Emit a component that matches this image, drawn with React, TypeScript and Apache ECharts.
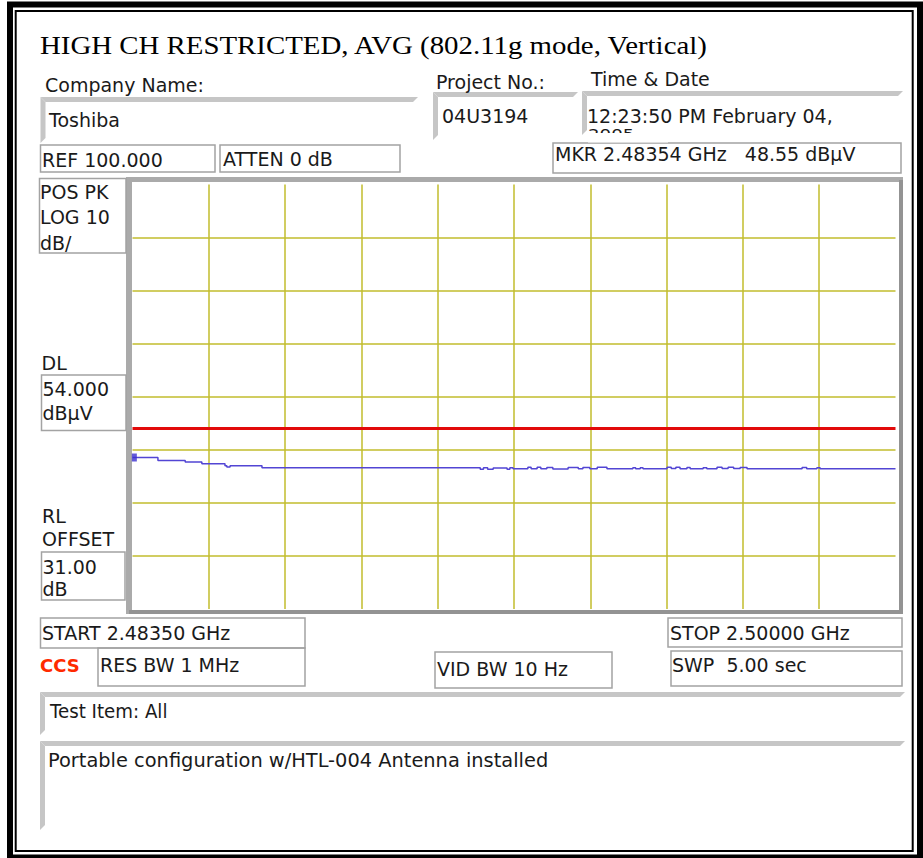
import React, { useEffect, useRef } from "react";
import * as echarts from "echarts";

// ---- data ----
const START_MHZ = 2483.5;
const STOP_MHZ = 2500.0;
const REF_LEVEL = 100;
const BOTTOM_LEVEL = 20;
const DB_PER_DIV = 10;
const X_DIVISIONS = 10;
const DISPLAY_LINE = 54.0;
const MARKER_MHZ = 2483.54;
const MARKER_LEVEL = 48.55;

const traceFreqMHz = [
  2483.5, 2484.05, 2484.64, 2485.0, 2485.5, 2485.54, 2485.61, 2486.3,
  2491.02, 2491.09, 2491.18, 2491.3, 2491.6, 2491.66, 2491.73,
  2492.05, 2492.12, 2492.25, 2492.33, 2492.46, 2492.59, 2492.92,
  2493.14, 2493.24, 2493.39, 2493.55, 2493.76, 2494.32, 2494.38,
  2494.48, 2494.54, 2495.06, 2495.15, 2495.25, 2495.34, 2495.49,
  2495.56, 2495.84, 2495.92, 2496.14, 2496.25, 2496.38, 2496.5,
  2496.64, 2496.79, 2497.98, 2498.08, 2498.3, 2498.37, 2500.0,
];
const traceLevel = [
  48.55, 48.0, 47.72, 47.35, 47.0, 46.78, 46.98, 46.63,
  46.36, 46.63, 46.36, 46.58, 46.36, 46.62, 46.45,
  46.7, 46.45, 46.7, 46.45, 46.68, 46.4, 46.68,
  46.45, 46.66, 46.42, 46.7, 46.42, 46.6, 46.42,
  46.62, 46.42, 46.7, 46.48, 46.72, 46.45, 46.65,
  46.42, 46.62, 46.45, 46.7, 46.48, 46.7, 46.48,
  46.66, 46.42, 46.66, 46.45, 46.6, 46.42, 46.42,
];

const TITLE = "HIGH CH RESTRICTED, AVG (802.11g mode, Vertical)";
const headerTexts = {
  company: "Company Name:",
  companyValue: "Toshiba",
  project: "Project No.:",
  projectValue: "04U3194",
  time: "Time & Date",
  timeValue: "12:23:50 PM February 04,",
  timeValue2: "2005",
  ref: "REF 100.000",
  atten: "ATTEN 0 dB",
  mkr: "MKR 2.48354 GHz   48.55 dBµV",
};
const leftTexts = {
  mode: ["POS PK", "LOG 10", "dB/"],
  dl: "DL",
  dlValue: ["54.000", "dBµV"],
  rl: ["RL", "OFFSET"],
  rlValue: ["31.00", "dB"],
};
const bottomTexts = {
  start: "START 2.48350 GHz",
  ccs: "CCS",
  rbw: "RES BW 1 MHz",
  vbw: "VID BW 10 Hz",
  stop: "STOP 2.50000 GHz",
  swp: "SWP  5.00 sec",
  testItem: "Test Item: All",
  note: "Portable configuration w/HTL-004 Antenna installed",
};

const FONT = '"DejaVu Sans", Verdana, sans-serif';
const SERIF = '"Liberation Serif", "Times New Roman", serif';

function txt(text: string, x: number, y: number, extra: any = {}) {
  const { scaleX, ...style } = extra;
  return {
    type: "text",
    x,
    y,
    z: 20,
    scaleX: scaleX ?? 1,
    silent: true,
    style: {
      text,
      x: 0,
      y: 0,
      fill: "#1a1a1a",
      fontSize: 19,
      fontFamily: FONT,
      align: "left",
      verticalAlign: "middle",
      ...style,
    },
  };
}

function box(x0: number, y0: number, x1: number, y1: number) {
  return {
    type: "rect",
    z: 15,
    silent: true,
    shape: { x: x0, y: y0, width: x1 - x0, height: y1 - y0 },
    style: { fill: "none", stroke: "#a3a3a3", lineWidth: 1.5 },
  };
}

function sunken(x0: number, y0: number, x1: number, y1: number, t = 5) {
  const col = "#c6c6c6";
  return [
    {
      type: "polygon",
      z: 15,
      silent: true,
      shape: { points: [[x0, y0], [x1, y0], [x1 - t, y0 + t], [x0 + t, y0 + t]] },
      style: { fill: col },
    },
    {
      type: "polygon",
      z: 15,
      silent: true,
      shape: { points: [[x0, y0], [x0 + t, y0 + t], [x0 + t, y1 - t], [x0, y1]] },
      style: { fill: col },
    },
  ];
}

export default function App() {
  const ref = useRef<HTMLDivElement>(null);
  useEffect(() => {
    if (!ref.current) return;
    const chart = echarts.init(ref.current, null, { renderer: "svg" });

    const graphics: any[] = [
      // outer frame
      {
        type: "rect", z: 1, silent: true,
        shape: { x: 10, y: 4.5, width: 910, height: 853 },
        style: { fill: "none", stroke: "#000", lineWidth: 6 },
      },
      {
        type: "rect", z: 1, silent: true,
        shape: { x: 15.7, y: 11, width: 897, height: 840 },
        style: { fill: "none", stroke: "#000", lineWidth: 2 },
      },
      // plot frame
      {
        type: "rect", z: 0, silent: true,
        shape: { x: 126, y: 177, width: 777, height: 437 },
        style: { fill: "#aaaaaa" },
      },
      {
        type: "rect", z: 0, silent: true,
        shape: { x: 899, y: 180, width: 4, height: 434 },
        style: { fill: "#939393" },
      },
      {
        type: "rect", z: 0, silent: true,
        shape: { x: 129, y: 610, width: 774, height: 4 },
        style: { fill: "#939393" },
      },
      {
        type: "rect", z: 0, silent: true,
        shape: { x: 132, y: 182, width: 767, height: 428 },
        style: { fill: "#ffffff" },
      },
      // title
      txt(TITLE, 40, 45.5, { fontFamily: SERIF, fontSize: 26, fill: "#000", scaleX: 1.11 }),
      // header
      txt(headerTexts.company, 45, 85),
      ...sunken(40.5, 97, 418, 143),
      txt(headerTexts.companyValue, 49, 120),
      box(40.5, 145, 215, 172),
      txt(headerTexts.ref, 42, 159.5),
      box(220, 145, 400, 172),
      txt(headerTexts.atten, 223, 159),
      txt(headerTexts.project, 436, 82),
      ...sunken(433, 92, 578, 140),
      txt(headerTexts.projectValue, 442, 115.5),
      txt(headerTexts.time, 591, 79),
      ...sunken(582, 91, 903, 135),
      txt(headerTexts.timeValue, 587, 115.5),
      txt(headerTexts.timeValue2, 588, 134.75, { fontSize: 14, scaleX: 1.3 }),
      {
        type: "rect", z: 21, silent: true,
        shape: { x: 588, y: 133, width: 80, height: 9.5 },
        style: { fill: "#ffffff" },
      },
      box(553, 143, 901, 173),
      txt(headerTexts.mkr, 555, 154),
      // left labels
      box(39.5, 178.5, 126, 253),
      txt(leftTexts.mode[0], 40, 191.5),
      txt(leftTexts.mode[1], 40, 217),
      txt(leftTexts.mode[2], 40, 243),
      txt(leftTexts.dl, 41.5, 362.5),
      box(41.5, 375, 126, 430.5),
      txt(leftTexts.dlValue[0], 42.5, 389),
      txt(leftTexts.dlValue[1], 42.5, 413),
      txt(leftTexts.rl[0], 42, 516),
      txt(leftTexts.rl[1], 42, 538.5),
      box(41.5, 552, 125, 600),
      txt(leftTexts.rlValue[0], 42.5, 566.5),
      txt(leftTexts.rlValue[1], 42.5, 589),
      // bottom
      box(40.5, 618, 305, 648),
      txt(bottomTexts.start, 42, 633),
      txt(bottomTexts.ccs, 40, 665, { fill: "#ff2a00", fontWeight: "bold", fontSize: 18 }),
      box(98, 648, 305, 686),
      txt(bottomTexts.rbw, 100, 665),
      box(435, 652, 612, 688),
      txt(bottomTexts.vbw, 437, 669),
      box(668, 618, 902, 647),
      txt(bottomTexts.stop, 670, 633),
      box(671, 651, 902, 686),
      txt(bottomTexts.swp, 672, 665),
      ...sunken(40, 692, 905, 735),
      txt(bottomTexts.testItem, 50, 711, { fontSize: 20, scaleX: 0.91 }),
      ...sunken(40, 741, 905, 830),
      txt(bottomTexts.note, 48, 760, { fontSize: 20, scaleX: 0.97 }),
    ];

    const gridLine = { color: "#c2bd2c", width: 1.5 };

    chart.setOption({
      animation: false,
      backgroundColor: "transparent",
      grid: { left: 132.5, top: 184.5, width: 763, height: 424.5, containLabel: false },
      xAxis: [
        {
          type: "value", min: 0, max: X_DIVISIONS, interval: 1, z: 2,
          axisLine: { show: false }, axisTick: { show: false }, axisLabel: { show: false },
          splitLine: { show: true, showMinLine: false, showMaxLine: false, lineStyle: gridLine },
        },
        { type: "value", min: START_MHZ, max: STOP_MHZ, show: false },
      ],
      yAxis: {
        type: "value", min: BOTTOM_LEVEL, max: REF_LEVEL, interval: DB_PER_DIV, z: 2,
        axisLine: { show: false }, axisTick: { show: false }, axisLabel: { show: false },
        splitLine: { show: true, showMinLine: false, showMaxLine: false, lineStyle: gridLine },
      },
      graphic: { elements: graphics },
      series: [
        {
          name: "DL",
          type: "line",
          xAxisIndex: 1,
          z: 4,
          symbol: "none",
          silent: true,
          lineStyle: { color: "#e20a0a", width: 3 },
          data: [[START_MHZ, DISPLAY_LINE], [STOP_MHZ, DISPLAY_LINE]],
        },
        {
          name: "Trace",
          type: "line",
          xAxisIndex: 1,
          z: 5,
          step: "end",
          symbol: "none",
          silent: true,
          lineStyle: { color: "#5245d4", width: 1.5 },
          data: traceFreqMHz.map((f, i) => [f, traceLevel[i]]),
        },
        {
          name: "Marker",
          type: "scatter",
          xAxisIndex: 1,
          z: 6,
          symbol: "rect",
          symbolSize: [5, 8],
          silent: true,
          itemStyle: { color: "#3b2fd0" },
          data: [[MARKER_MHZ, MARKER_LEVEL]],
        },
      ],
    });
    return () => chart.dispose();
  }, []);

  return (
    <div
      ref={ref}
      style={{ position: "absolute", left: 0, top: 0, width: 923, height: 858, background: "#fff" }}
    />
  );
}
